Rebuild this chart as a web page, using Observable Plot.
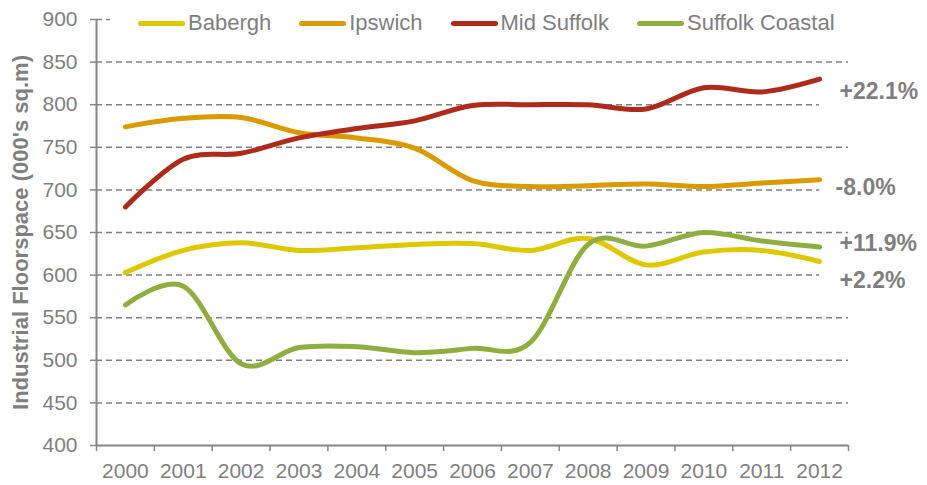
<!DOCTYPE html>
<html><head><meta charset="utf-8">
<script src="https://cdn.jsdelivr.net/npm/d3@7"></script>
<script src="https://cdn.jsdelivr.net/npm/@observablehq/plot@0.6"></script>
<style>
body{margin:0;background:#fff;font-family:"Liberation Sans",Arial,sans-serif;}
#wrap{position:relative;width:927px;height:485px;}
#legend{position:absolute;left:110px;top:9px;width:738px;height:28px;background:#fff;display:flex;align-items:center;padding-left:28px;box-sizing:border-box;gap:28px;font-size:22px;color:#7f7f7f;white-space:nowrap;}
.item{display:flex;align-items:center;gap:3px}
.sw{width:47px;height:5px;border-radius:3px}
</style></head><body><div id="wrap"><div id="legend"></div></div>
<script>
const years = [2000,2001,2002,2003,2004,2005,2006,2007,2008,2009,2010,2011,2012];
const series = ["Babergh","Ipswich","Mid Suffolk","Suffolk Coastal"];
const colors = ["#DFC800","#DB9A00","#B02A1A","#8FAE40"];
const babergh = [603,629,638,629,632,636,637,629,643,612,627,629,616];
const ipswich = [774,784,785,767,761,749,711,704,705,707,704,708,712];
const midSuffolk = [680,736,743,761,772,781,799,800,800,795,820,815,830];
const suffolkCoastal = [565,587,496,515,516,509,514,521,636,634,650,640,633];
const changeLabels = ["+2.2%","-8.0%","+22.1%","+11.9%"];
const yTicks = [400,450,500,550,600,650,700,750,800,850,900];
const shortGrid = [600,700,800];
const yTitle = "Industrial Floorspace (000's sq.m)";

const values = [babergh, ipswich, midSuffolk, suffolkCoastal];
const data = series.flatMap((s,k)=> years.map((yr,i)=>({series:s, year:yr, value:values[k][i]})));
const lastYear = years[years.length-1];
const bounds = years.map(y=>y-0.5).concat([lastYear+0.5]);
const labelDy = [19, 8, 12, -3];
const labelDx = [20, 16, 20, 20];
const gray = "#7f7f7f";
const gridStyle = {stroke:"#808080", strokeWidth:1.5, strokeDasharray:"6,4"};

const labelMarks = series.map((s,k)=> Plot.text([{year:lastYear, value:values[k][values[k].length-1], label:changeLabels[k]}], {
  x:"year", y:"value", text:"label", dx:labelDx[k], dy:labelDy[k], textAnchor:"start", fill:gray, fontWeight:"bold", fontSize:23
}));

const chart = Plot.plot({
  width: 927, height: 485,
  marginLeft: 96, marginRight: 79, marginTop: 19, marginBottom: 40,
  style: {fontFamily: "'Liberation Sans', Arial, sans-serif", fontSize: "21px", color: gray, background: "white", overflow: "visible"},
  x: {type: "linear", domain: [bounds[0], bounds[bounds.length-1]]},
  y: {domain: [400, 900]},
  color: {domain: series, range: colors},
  marks: [
    Plot.ruleY(yTicks.filter(v=>v>400 && !shortGrid.includes(v)), {y: d=>d, ...gridStyle}),
    Plot.ruleY(shortGrid, {y: d=>d, x1: ()=>bounds[0], x2: ()=>lastYear, ...gridStyle}),
    Plot.axisY({ticks: yTicks, tickSize: 6, tickPadding: 13, tickFormat: d=>String(d), label: null, fontSize: 21, fill: gray, stroke: "#868686", strokeWidth: 1.5}),
    Plot.axisX({ticks: years, tickSize: 0, tickPadding: 18, tickFormat: d=>String(d), label: null, fontSize: 21, fill: gray}),
    Plot.axisX({ticks: bounds, tickSize: 6, tickFormat: ()=>"", label: null, stroke:"#868686", strokeWidth:1.5}),
    Plot.ruleX([bounds[0]], {stroke:"#868686", strokeWidth:2}),
    Plot.ruleY([400], {stroke:"#868686", strokeWidth:2}),
    Plot.line(data, {x:"year", y:"value", z:"series", stroke:"series", strokeWidth:5, strokeLinecap:"round", strokeLinejoin:"round", curve:"cardinal"}),
    ...labelMarks,
    Plot.text([yTitle], {text: d=>d, frameAnchor:"left", textAnchor:"middle", rotate:-90, dx:-76, fill:gray, fontWeight:"bold", fontSize:22})
  ]
});
document.getElementById("wrap").appendChild(chart);

const legend = document.getElementById("legend");
series.forEach((s,k)=>{
  const it = document.createElement("div"); it.className = "item";
  const sw = document.createElement("div"); sw.className = "sw"; sw.style.background = colors[k];
  const tx = document.createElement("span"); tx.textContent = s;
  it.appendChild(sw); it.appendChild(tx); legend.appendChild(it);
});
</script></body></html>
